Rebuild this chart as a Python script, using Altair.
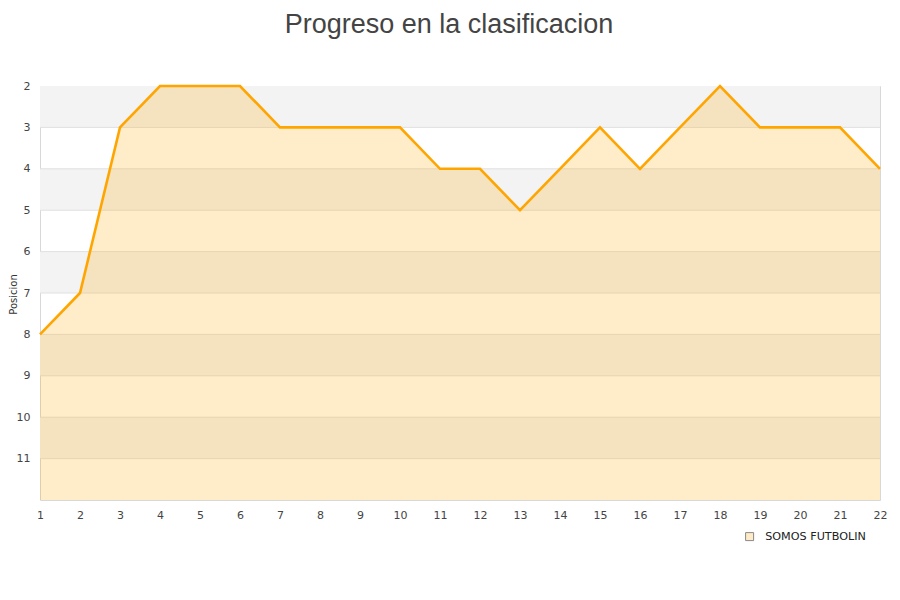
import altair as alt
import pandas as pd

jornadas = list(range(1, 23))
posiciones = [8, 7, 3, 2, 2, 2, 3, 3, 3, 3, 4, 4, 5, 4, 3, 4, 3, 2, 3, 3, 3, 4]
equipo = "SOMOS FUTBOLIN"
band_starts = [2, 4, 6, 8, 10]

df = pd.DataFrame({"Jornada": jornadas, "Posicion": posiciones, "base": [12] * len(jornadas), "Equipo": [equipo] * len(jornadas)})
bands = pd.DataFrame({"y": band_starts, "y2": [b + 1 for b in band_starts], "x": [1] * 5, "x2": [22] * 5})

xs = alt.Scale(domain=[1, 22], nice=False, zero=False)
ys = alt.Scale(domain=[2, 12], reverse=True, nice=False, zero=False)

x_axis = alt.Axis(values=jornadas, title=None, ticks=False, domain=False, grid=False,
                  labelOverlap=False, labelFlush=False,
                  labelColor="#444", labelFontSize=11, labelPadding=9, labelFont="DejaVu Sans")
y_axis = alt.Axis(values=list(range(2, 12)), title="Posicion", ticks=False, domain=False, grid=False,
                  labelOverlap=False, labelFlush=False,
                  labelColor="#444", labelFontSize=11, labelPadding=10, labelFont="DejaVu Sans",
                  titleFontSize=10, titleFontWeight="normal", titleColor="#333",
                  titleAngle=270, titleAlign="center", titleBaseline="middle",
                  titleX=-27, titleY=208, titleFont="DejaVu Sans")

band = alt.Chart(bands).mark_rect(color="#f3f3f3").encode(
    x=alt.X("x:Q", scale=xs, axis=x_axis), x2="x2:Q",
    y=alt.Y("y:Q", scale=ys, axis=y_axis), y2="y2:Q")

grid = alt.Chart(pd.DataFrame({"v": list(range(3, 12))})).mark_rule(color="#e0e0e0", strokeWidth=1).encode(
    y=alt.Y("v:Q", scale=ys, axis=y_axis))

area = alt.Chart(df).mark_area(color="#ffa500", opacity=0.21).encode(
    x=alt.X("Jornada:Q", scale=xs, axis=x_axis),
    y=alt.Y("Posicion:Q", scale=ys, axis=y_axis), y2="base:Q")

line = alt.Chart(df).mark_line(color="#ffa500", strokeWidth=2.6).encode(
    x=alt.X("Jornada:Q", scale=xs, axis=x_axis),
    y=alt.Y("Posicion:Q", scale=ys, axis=y_axis))

legend_layer = alt.Chart(df).mark_square(size=0, opacity=0).encode(
    x=alt.X("Jornada:Q", scale=xs, axis=x_axis),
    y=alt.Y("Posicion:Q", scale=ys, axis=y_axis),
    fill=alt.Fill("Equipo:N", scale=alt.Scale(range=["#feecc8"]),
                  legend=alt.Legend(title=None, orient="none", legendX=704, legendY=445,
                                    symbolType="square", symbolSize=64, symbolStrokeColor="#888",
                                    symbolStrokeWidth=1, symbolOpacity=1, labelFontSize=11.2,
                                    labelOffset=10, labelColor="#222", labelFont="DejaVu Sans")))

chart = alt.layer(band, grid, area, line, legend_layer).properties(
    width=840, height=414,
    title=alt.TitleParams("Progreso en la clasificacion", fontSize=27, fontWeight="normal",
                          color="#444", anchor="middle", offset=41, dx=-11, font="Liberation Sans"),
    autosize=alt.AutoSizeParams(type="none"),
    padding={"left": 32, "top": 78, "right": 12, "bottom": 90},
).configure_view(stroke="#d8d8d8", strokeWidth=1)

chart.save("out.html", embed_options={"renderer": "svg", "actions": False})
